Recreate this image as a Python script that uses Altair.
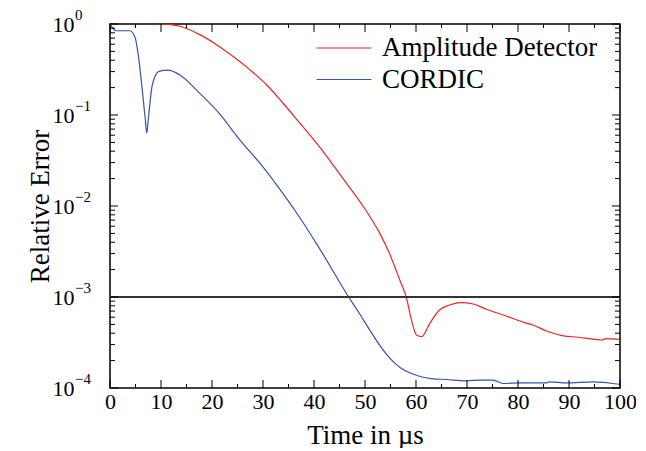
import altair as alt
import pandas as pd

# ---- data ----
ad_t = [9.0, 11.5, 13.7, 17.6, 20.9, 24.1, 27.4, 30.7, 33.9, 37.2, 41.5, 45.7, 49.6,
        52.9, 54.7, 56.8, 58.1, 59.1, 60.1, 61.1, 62.7, 64.6, 66.6, 68.9, 71.2, 73.8,
        77.1, 81.3, 82.9, 85.6, 89.2, 90.8, 94.7, 96.4, 97.3, 99.8]
ad_v = [1.0, 0.99, 0.944, 0.764, 0.593, 0.442, 0.315, 0.215, 0.1355, 0.0817, 0.0417,
        0.0200, 0.0100, 0.0050, 0.0031, 0.00155, 0.00099, 0.00056, 0.000382, 0.000366,
        0.000513, 0.000719, 0.000817, 0.000867, 0.000838, 0.000733, 0.000634, 0.000522,
        0.000492, 0.000423, 0.000372, 0.000366, 0.000345, 0.000337, 0.000348, 0.000343]

cd_t = [0.0, 1.2, 3.9, 4.9, 6.9, 7.2, 7.5, 8.3, 9.6, 11.4, 13.7, 17.6, 21.5, 25.4, 29.4,
        33.1, 37.0, 41.0, 46.8, 49.0, 51.0, 53.0, 55.0, 57.0, 59.0, 61.0, 63.0, 66.0,
        69.9, 72.5, 75.1, 77.1, 80.3, 85.6, 86.2, 89.5, 94.7, 99.8]
cd_v = [1.0, 0.843, 0.843, 0.714, 0.092, 0.0634, 0.089, 0.215, 0.302, 0.311, 0.275,
        0.173, 0.1028, 0.0537, 0.0295, 0.0158, 0.00776, 0.00347, 0.00100, 0.000646,
        0.000427, 0.000288, 0.000209, 0.000166, 0.000145, 0.000133, 0.000127, 0.000124,
        0.000120, 0.000122, 0.000122, 0.000112, 0.000114, 0.000114, 0.000117, 0.000114,
        0.000117, 0.000110]

series_names = ["Amplitude Detector", "CORDIC"]
series_colors = ["#ee2424", "#3354a8"]

x_major = list(range(0, 101, 10))
x_minor = list(range(5, 100, 10))
y_major = [1e-4, 1e-3, 1e-2, 1e-1, 1.0]
y_major_base = ["10", "10", "10", "10", "10"]
y_major_exp = ["−4", "−3", "−2", "−1", "0"]
y_minor = [m * 10.0 ** e for e in range(-4, 0) for m in range(2, 10)]
threshold = [1e-3]

W, H = 510, 364
FONT = "Liberation Serif"

df_ad = pd.DataFrame({"t": ad_t, "v": ad_v, "series": series_names[0]})
df_cd = pd.DataFrame({"t": cd_t, "v": cd_v, "series": series_names[1]})

xs = alt.Scale(domain=[0, 100], nice=False, zero=False)
ys = alt.Scale(type="log", domain=[1e-4, 1], nice=False)

x_axis = alt.Axis(
    title="Time in µs", values=x_major, format="d", ticks=False, tickSize=0,
    domain=False, grid=False, labelPadding=3, labelFontSize=22, labelFont=FONT,
    labelFlush=False, labelColor="black", titleFont=FONT, titleFontSize=27,
    titleFontWeight="normal", titleColor="black", titlePadding=10)
y_axis = alt.Axis(
    title="Relative Error", values=y_major, labelExpr="'" + y_major_base[0] + "'",
    ticks=False, tickSize=0, domain=False, grid=False, labelAlign="left",
    labelPadding=58, labelFlush=False, labelFontSize=22, labelFont=FONT,
    labelColor="black", titleFont=FONT, titleFontSize=27, titleFontWeight="normal",
    titleColor="black", titleX=-56, titleY=H / 2)


def legend(y):
    return alt.Legend(title=None, orient="none", legendX=206, legendY=y,
                      symbolType="stroke", symbolSize=3000, symbolStrokeWidth=1.2,
                      labelFont=FONT, labelFontSize=27, labelColor="black",
                      labelLimit=500, labelOffset=10, padding=0)


line_ad = alt.Chart(df_ad).mark_line(strokeWidth=1.2, clip=True, interpolate="monotone").encode(
    x=alt.X("t:Q", scale=xs, axis=x_axis),
    y=alt.Y("v:Q", scale=ys, axis=y_axis),
    color=alt.Color("series:N", scale=alt.Scale(domain=series_names[:1],
                                                range=series_colors[:1]),
                    legend=legend(-4)),
)
line_cd = alt.Chart(df_cd).mark_line(strokeWidth=1.2, clip=True, interpolate="monotone").encode(
    x=alt.X("t:Q", scale=xs, axis=x_axis),
    y=alt.Y("v:Q", scale=ys, axis=y_axis),
    stroke=alt.Stroke("series:N", scale=alt.Scale(domain=series_names[1:],
                                                  range=series_colors[1:]),
                      legend=legend(27.5)),
)

# exponents of the y tick labels (superscripts)
exps = alt.Chart(pd.DataFrame({"v": y_major, "e": y_major_exp})).mark_text(
    align="left", baseline="middle", dx=-35, dy=-9, font=FONT, fontSize=15,
    color="black").encode(
    y=alt.Y("v:Q", scale=ys, axis=y_axis), x=alt.value(0), text="e:N")

hline = alt.Chart(pd.DataFrame({"v": threshold})).mark_rule(
    color="#333333", strokeWidth=2).encode(y=alt.Y("v:Q", scale=ys, axis=y_axis))


def xticks(vals, top, length):
    y0 = 0 if top else H
    y1 = length if top else H - length
    return alt.Chart(pd.DataFrame({"t": vals})).mark_rule(
        color="black", strokeWidth=1).encode(
        x=alt.X("t:Q", scale=xs, axis=x_axis), y=alt.value(y0), y2=alt.value(y1))


def yticks(vals, right, length):
    x0 = W if right else 0
    x1 = W - length if right else length
    return alt.Chart(pd.DataFrame({"v": vals})).mark_rule(
        color="black", strokeWidth=1).encode(
        y=alt.Y("v:Q", scale=ys, axis=y_axis), x=alt.value(x0), x2=alt.value(x1))


chart = alt.layer(
    line_ad, line_cd, hline, exps,
    xticks(x_major, False, 8), xticks(x_minor, False, 4),
    xticks(x_major, True, 8), xticks(x_minor, True, 4),
    yticks(y_major, False, 8), yticks(y_minor, False, 5),
    yticks(y_major, True, 8), yticks(y_minor, True, 5),
).properties(
    width=W, height=H,
    autosize=alt.AutoSizeParams(type="none"),
    padding={"left": 102, "top": 16, "right": 16, "bottom": 60},
).configure_view(stroke="black", strokeWidth=1.5)

chart.save("out.html", embed_options={"renderer": "svg", "actions": False})
